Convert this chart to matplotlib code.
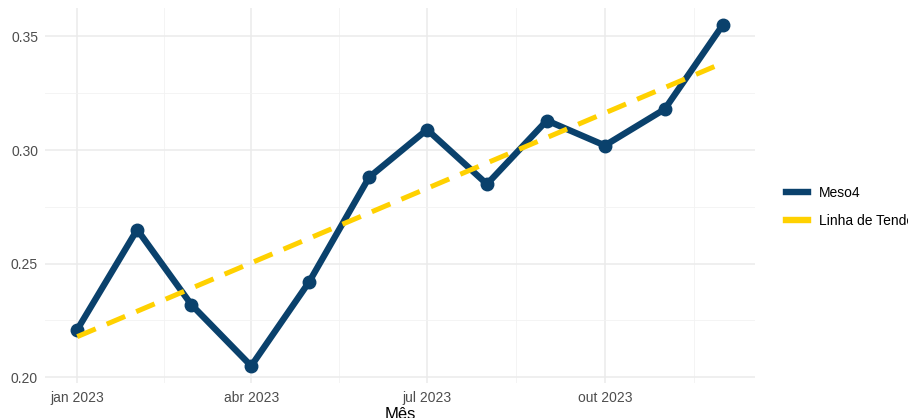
import numpy as np
import pandas as pd
import matplotlib
matplotlib.use("Agg")
import matplotlib.pyplot as plt
import matplotlib.dates as mdates

plt.rcParams["font.family"] = ["Liberation Sans", "DejaVu Sans"]

meses = pd.date_range("2023-01-01", "2023-12-01", freq="MS")
meso4 = [0.221, 0.265, 0.232, 0.205, 0.242, 0.288, 0.309, 0.285, 0.313, 0.302, 0.318, 0.355]
tick_meses = pd.to_datetime(["2023-01-01", "2023-04-01", "2023-07-01", "2023-10-01"])
tick_labels = ["jan 2023", "abr 2023", "jul 2023", "out 2023"]
y_ticks = [0.20, 0.25, 0.30, 0.35]
y_minor = [0.225, 0.275, 0.325]

azul = "#0A416C"
amarelo = "#FFD100"

# tendência linear sobre os dias
x_num = mdates.date2num(meses)
coef = np.polyfit(x_num, meso4, 1)
tendencia = np.polyval(coef, x_num)

fig = plt.figure(figsize=(9.08, 4.18), dpi=100)
ax = fig.add_axes([45 / 908, 35 / 418, 710 / 908, 375 / 418])

# limites com expansão de 5% (estilo ggplot)
xmin, xmax = x_num.min(), x_num.max()
dx = (xmax - xmin) * 0.05
ax.set_xlim(xmin - dx, xmax + dx)
ymin, ymax = min(meso4), max(meso4)
dy = (ymax - ymin) * 0.05
ax.set_ylim(ymin - dy, ymax + dy)

maj = mdates.date2num(tick_meses)
ax.set_xticks(maj)
ax.set_xticklabels(tick_labels)
minor_x = list((maj[:-1] + maj[1:]) / 2) + [maj[-1] + (maj[-1] - maj[-2]) / 2]
ax.set_xticks(minor_x, minor=True)
ax.set_yticks(y_ticks)
ax.set_yticklabels([f"{v:.2f}" for v in y_ticks])
ax.set_yticks(y_minor, minor=True)

ax.grid(which="major", color="#EBEBEB", linewidth=1.1)
ax.grid(which="minor", color="#F2F2F2", linewidth=0.6)
ax.set_axisbelow(True)
for s in ax.spines.values():
    s.set_visible(False)
ax.tick_params(which="both", length=0, labelsize=10, labelcolor="#4D4D4D")
ax.tick_params(axis="x", pad=6)
ax.tick_params(axis="y", pad=5)

ax.plot(x_num, meso4, color=azul, linewidth=4.6, marker="o", markersize=9,
        solid_joinstyle="round", label="Meso4", zorder=3)
ax.plot(x_num, tendencia, color=amarelo, linewidth=3.6, linestyle=(0, (4, 2.4)),
        label="Linha de Tendência", zorder=4)

ax.set_xlabel("Mês", fontsize=12, labelpad=1)

handles = [plt.Line2D([], [], color=azul, linewidth=4.6),
           plt.Line2D([], [], color=amarelo, linewidth=4.6)]
fig.legend(handles, ["Meso4", "Linha de Tendência"], loc="center left",
           bbox_to_anchor=(773 / 908, 0.505), frameon=False, fontsize=10,
           handlelength=1.6, handletextpad=0.8, labelspacing=0.95)

fig.savefig("out.png", dpi=100)
